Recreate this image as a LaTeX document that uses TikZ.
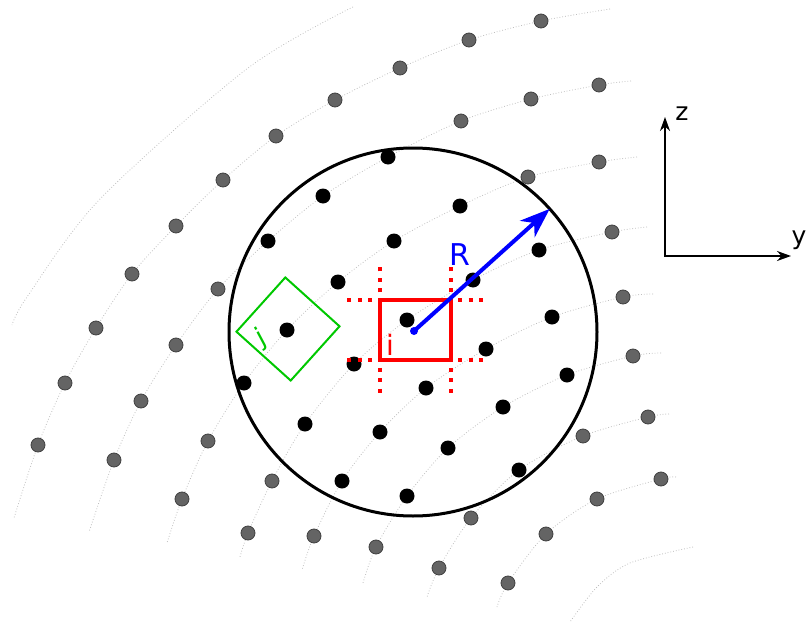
\documentclass[tikz,border=0pt]{standalone}
\usepackage{fontspec}
\setmainfont{DejaVu Sans}
\usetikzlibrary{arrows.meta}
\definecolor{jgreen}{RGB}{0,200,0}
\definecolor{dotgray}{RGB}{100,100,100}

\begin{document}
\begin{tikzpicture}[x=1pt, y=-1pt,
        shell/.style = {draw=black!25, line width=0.8pt, dotted},
        indot/.style = {circle, fill=black, inner sep=0pt, minimum size=15pt},
        outdot/.style = {circle, fill=dotgray, draw=black!75, line width=0.8pt, inner sep=0pt, minimum size=14pt},
        halo/.style = {red, line width=4pt, dash pattern=on 4pt off 6.5pt},
        axis/.style = {line width=2pt, {Stealth[length=14pt, width=10pt]}-{Stealth[length=14pt, width=10pt]}}]
        \useasboundingbox (0,0) rectangle (807,624);

        % Shells
        \draw[shell] plot[smooth] coordinates {(353,7) (248,68) (100,199) (27,297) (12,325)};
        \draw[shell] plot[smooth] coordinates {(610,9) (541,21) (469,40) (400,68) (335,100) (276,136) (223,180) (176,226) (132,274) (96,328) (65,383) (38,445) (14,518)};
        \draw[shell] plot[smooth] coordinates {(631,81) (599,85) (531,99) (461,121) (388,157) (323,196) (268,241) (218,289) (176,345) (141,401) (114,460) (89,532)};
        \draw[shell] plot[smooth] coordinates {(637,157) (599,162) (528,177) (460,206) (394,241) (338,282) (287,330) (244,383) (208,441) (182,499) (167,543)};
        \draw[shell] plot[smooth] coordinates {(647,227) (612,232) (539,250) (473,280) (407,320) (354,364) (305,424) (272,481) (248,533) (240,557)};
        \draw[shell] plot[smooth] coordinates {(653,294) (623,297) (552,317) (486,349) (426,388) (380,432) (342,481) (314,536) (302,570)};
        \draw[shell] plot[smooth] coordinates {(661,353) (633,356) (567,375) (503,407) (448,448) (407,496) (376,547) (363,583)};
        \draw[shell] plot[smooth] coordinates {(669,414) (648,417) (583,436) (519,470) (471,518) (439,568) (427,597)};
        \draw[shell] plot[smooth] coordinates {(676,477) (661,479) (597,499) (546,534) (508,583) (497,607)};
        \draw[shell] plot[smooth] coordinates {(693,547) (630,563) (597,587) (570,622)};

        % Cutoff sphere
        \node[draw, circle, line width=3pt, minimum size=368pt, inner sep=0pt, outer sep=0pt] (sphere) at (413,332) {};

        % Particles
        \foreach \x/\y [count=\n] in {541/21, 469/40, 400/68, 335/100, 276/136, 223/180, 176/226, 132/274, 96/328, 65/383, 38/445,
                599/85, 531/99, 461/121, 218/289, 176/345, 141/401, 114/460,
                599/162, 528/177, 208/441, 182/499,
                612/232, 272/481, 248/533,
                623/297, 314/536,
                633/356, 376/547,
                648/417, 583/436, 471/518, 439/568,
                661/479, 597/499, 546/534, 508/583}
            \node[outdot] (out\n) at (\x,\y) {};
        \foreach \x/\y [count=\n] in {388/157, 323/196, 268/241,
                460/206, 394/241, 338/282, 287/330, 244/383,
                539/250, 473/280, 407/320, 354/364, 305/424,
                552/317, 486/349, 426/388, 380/432, 342/481,
                567/375, 503/407, 448/448, 407/496,
                519/470}
            \node[indot] (in\n) at (\x,\y) {};

        % Cell i
        \node[draw=red, line width=4pt, minimum width=71pt, minimum height=60.5pt, inner sep=0pt, outer sep=0pt] (celli) at (415,330) {};
        \node[red, font=\fontsize{28}{28}\selectfont] (labi) at (390,345) {i};
        \draw[halo] ([xshift=-7.5pt]celli.north west) -- ++(-25pt,0pt);
        \draw[halo] ([yshift=7.5pt]celli.north west) -- ++(0pt,25pt);
        \draw[halo] ([xshift=7.5pt]celli.north east) -- ++(25pt,0pt);
        \draw[halo] ([yshift=7.5pt]celli.north east) -- ++(0pt,25pt);
        \draw[halo] ([xshift=-7.5pt]celli.south west) -- ++(-25pt,0pt);
        \draw[halo] ([yshift=-7.5pt]celli.south west) -- ++(0pt,-25pt);
        \draw[halo] ([xshift=7.5pt]celli.south east) -- ++(25pt,0pt);
        \draw[halo] ([yshift=-7.5pt]celli.south east) -- ++(0pt,-25pt);

        % Cell j
        \node[draw=jgreen, line width=2pt, rotate=48, minimum size=73pt, inner sep=0pt] (cellj) at (288,329) {};
        \node[jgreen, rotate=28, font=\fontsize{26}{26}\selectfont] (labj) at (261,338) {j};

        % Radius
        \node[circle, fill=blue, inner sep=0pt, minimum size=8pt] (centre) at (414,331) {};
        \draw[blue, line width=4pt, -{Stealth[length=30pt, width=22pt, inset=9pt]}] (centre.center) -- (sphere.42);
        \node[blue, font=\fontsize{30}{30}\selectfont] (labR) at (460,255) {R};

        % Axes
        \coordinate (origin) at (665,256);
        \coordinate (zend) at (665,117);
        \coordinate (yend) at (791,256);
        \draw[axis] (zend) -- (origin) -- (yend);
        \node[font=\fontsize{25}{25}\selectfont] (labz) at (682,114) {z};
        \node[font=\fontsize{25}{25}\selectfont] (laby) at (799,240) {y};
      \end{tikzpicture}
\end{document}
